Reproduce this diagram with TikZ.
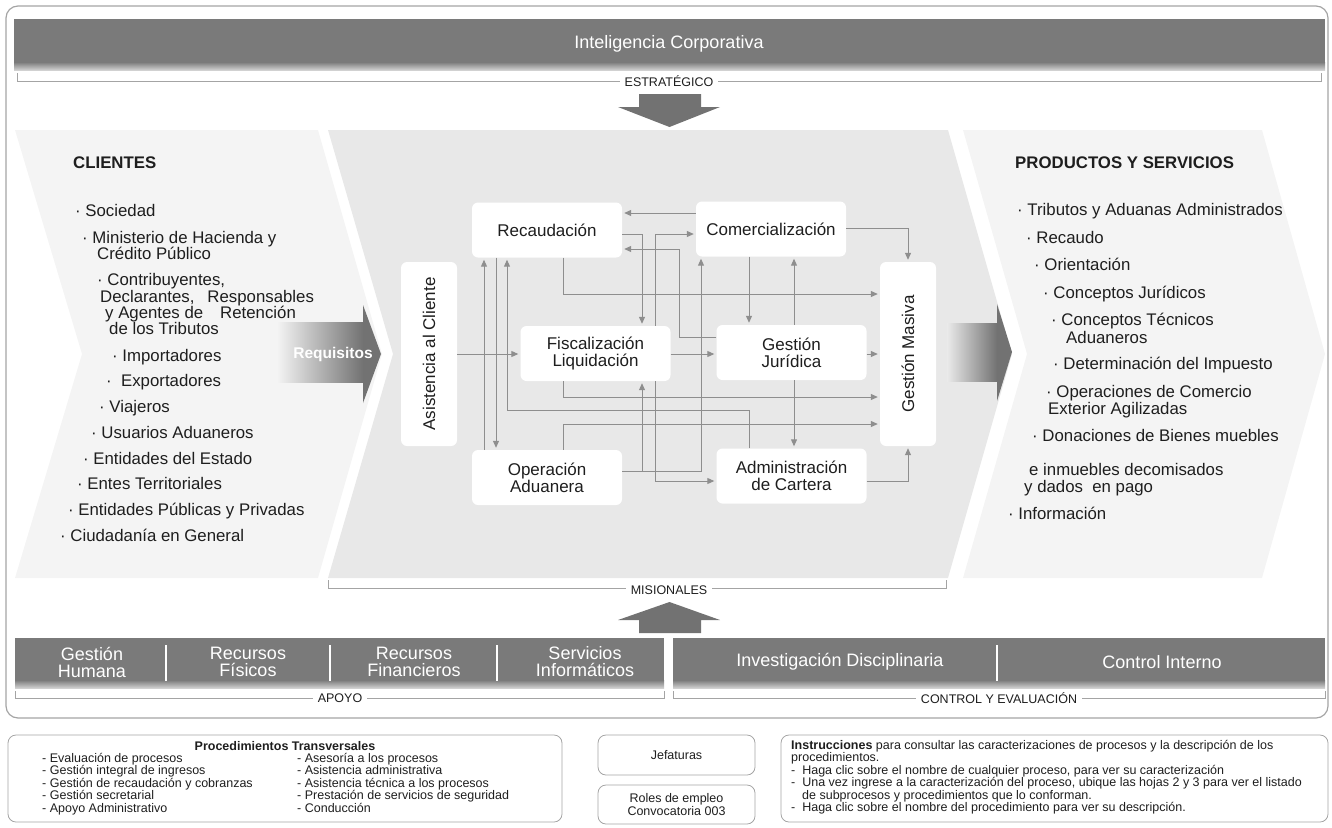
\documentclass[tikz,border=0pt]{standalone}
\usepackage{fontspec}
\usepackage{graphicx}
\setmainfont{Liberation Sans}
\usetikzlibrary{positioning,arrows.meta}
\definecolor{bargray}{HTML}{7A7A7A}
\definecolor{framegray}{HTML}{A4A4A4}
\definecolor{panellight}{HTML}{F4F4F4}
\definecolor{panelmid}{HTML}{E8E8E8}
\definecolor{flowgray}{HTML}{8E8E8E}
\definecolor{arrowgray}{HTML}{727272}
\definecolor{txt}{HTML}{1E1E1E}
\newcommand{\fs}[2]{\fontsize{#1pt}{#2pt}\selectfont}

\begin{document}
\begin{tikzpicture}[x=1pt,y=-1pt,>={Triangle[length=7pt,width=6pt]},
  procbox/.style={fill=white,rounded corners=6pt,inner sep=0pt,align=center,
    minimum width=150pt,minimum height=55pt,font=\fs{17}{17},text=txt},
  flowline/.style={draw=flowgray,line width=1pt,->,shorten >=2pt},
  itemtext/.style={anchor=base west,font=\fs{16.8}{16},text=txt,inner sep=0pt},
  bartext/.style={text=white,font=\fs{18}{17},align=center},
  bracketline/.style={draw=framegray,line width=0.8pt},
  labeltag/.style={fill=white,font=\fs{12.5}{12.5},text=txt,inner xsep=5pt,inner ysep=1pt},
  notebox/.style={draw=framegray,rounded corners=8pt,line width=0.8pt},
  smalltext/.style={font=\fs{12.5}{12.5},text=txt,align=left,anchor=north west,inner sep=0pt}]

\useasboundingbox (0,0) rectangle (1332,827);

% outer frame
\draw[framegray,line width=1.2pt,rounded corners=12pt] (6,6) rectangle (1328,718);

% strategic level
\fill[bargray] (14,19) rectangle (1325,62);
\shade[top color=bargray,bottom color=black!18] (14,62) rectangle (1325,70);
\node[bartext] (intel) at (669,44) {Inteligencia Corporativa};
\draw[bracketline] (17,73) |- (1321,81) -- (1321,73);
\node[labeltag] (estr) at (669,81) {ESTRATÉGICO};
\fill[arrowgray] (639,94) -- (701,94) -- (701,107) -- (720,107) -- (669.5,127)
  -- (618,107) -- (639,107) -- cycle;

% chevron panels
\fill[panellight] (15,130) -- (318,130) -- (382,354) -- (318,578) -- (15,578) -- (82,354) -- cycle;
\fill[panelmid] (328,130) -- (948,130) -- (1012,354) -- (948,578) -- (328,578) -- (393,354) -- cycle;
\fill[panellight] (963,130) -- (1262,130) -- (1325,354) -- (1262,578) -- (963,578) -- (1027,354) -- cycle;

% Requisitos arrow
\shade[left color=white!92!arrowgray,right color=arrowgray] (277,322) rectangle (363,382);
\fill[arrowgray] (363,305) -- (381,354) -- (363,403) -- cycle;
\node[font=\bfseries\fs{15.5}{15.5},text=white] (req) at (333,354) {Requisitos};

% output arrow
\shade[left color=white!85!arrowgray,right color=arrowgray] (947,323) rectangle (997,381);
\fill[arrowgray] (997,304) -- (1012,352) -- (997,401) -- cycle;

% clients
\node[anchor=base west,font=\bfseries\fs{16.8}{16},text=txt,inner sep=0pt] (clihead) at (73,168) {CLIENTES};
\foreach \x/\y/\t [count=\i] in {75/216/{· Sociedad},
    82/243/{· Ministerio de Hacienda y}, 97/259/{Crédito Público},
    97/285/{· Contribuyentes,}, 100/302/{Declarantes,\hspace{13pt}Responsables},
    105/318/{y Agentes de\hspace{17pt}Retención}, 109/334/{de los Tributos},
    112/361/{· Importadores}, 106/386/{·\ \ Exportadores}, 99/412/{· Viajeros},
    91/438/{· Usuarios Aduaneros}, 83/464/{· Entidades del Estado},
    77/489/{· Entes Territoriales}, 68/515/{· Entidades Públicas y Privadas},
    60/541/{· Ciudadanía en General}}
  \node[itemtext] (cli\i) at (\x,\y) {\t};

% products and services
\node[anchor=base west,font=\bfseries\fs{16.8}{16},text=txt,inner sep=0pt] (prodhead) at (1015,168) {PRODUCTOS Y SERVICIOS};
\foreach \x/\y/\t [count=\i] in {1017/215/{· Tributos y Aduanas Administrados},
    1026/243/{· Recaudo}, 1034/270/{· Orientación}, 1043/298/{· Conceptos Jurídicos},
    1051/325/{· Conceptos Técnicos}, 1066/343/{Aduaneros},
    1053/369/{· Determinación del Impuesto},
    1046/397/{· Operaciones de Comercio}, 1048/414/{Exterior Agilizadas},
    1032/441/{· Donaciones de Bienes muebles},
    1029/475/{e inmuebles decomisados}, 1024/492/{y dados\ \ en pago},
    1008/519/{· Información}}
  \node[itemtext] (prod\i) at (\x,\y) {\t};

% missional processes
\node[procbox,minimum width=56pt,minimum height=184pt] (asist) at (429,354) {\rotatebox{90}{Asistencia al Cliente}};
\node[procbox,minimum width=56pt,minimum height=184pt] (gmasiva) at (908,354) {\rotatebox{90}{Gestión Masiva}};
\node[procbox] (recaud) at (547,230) {Recaudación};
\node[procbox] (comerc) at (771,229) {Comercialización};
\node[procbox] (fiscal) at (595.5,353.5) {Fiscalización\\Liquidación};
\node[procbox] (gjurid) at (791.5,352.5) {Gestión\\Jurídica};
\node[procbox] (opadu) at (547,477.5) {Operación\\Aduanera};
\node[procbox] (admcar) at (791.5,476) {Administración\\de Cartera};

\draw[flowline] (comerc.west |- 0,213) -- (recaud.east |- 0,213);
\draw[flowline] (recaud.east |- 0,234) -| (fiscal.north -| 642,0);
\draw[flowline] (fiscal.north -| 655,0) |- (comerc.west |- 0,234);
\draw[flowline] (gjurid.west |- 0,337) -| (679,249) -- (recaud.east |- 0,249);
\draw[flowline] (recaud.south -| 563,0) |- (gmasiva.west |- 0,294);
\draw[flowline] (comerc.east |- 0,228) -| (gmasiva.north);
\draw[flowline] (comerc.south -| 749,0) -- (gjurid.north -| 749,0);
\draw[flowline] (gjurid.north -| 794,0) -- (comerc.south -| 794,0);
\draw[flowline] (opadu.east |- 0,471) -| (comerc.south -| 701,0);
\draw[flowline] (opadu.east |- 0,471) -| (fiscal.south -| 642,0);
\draw[flowline] (fiscal.south -| 655,0) |- (admcar.west |- 0,481);
\draw[flowline] (asist.east |- 0,354) -- (fiscal.west |- 0,354);
\draw[flowline] (fiscal.east |- 0,354) -- (gjurid.west |- 0,354);
\draw[flowline] (gjurid.east |- 0,354) -- (gmasiva.west |- 0,354);
\draw[flowline] (fiscal.south -| 563,0) |- (gmasiva.west |- 0,397);
\draw[flowline] (admcar.north -| 749,0) |- (507,410) -- (recaud.south -| 507,0);
\draw[flowline] (opadu.north -| 563,0) |- (gmasiva.west |- 0,424);
\draw[flowline] (gjurid.south -| 794,0) -- (admcar.north -| 794,0);
\draw[flowline] (admcar.east |- 0,481) -| (gmasiva.south);
\draw[flowline] (opadu.north -| 484,0) -- (recaud.south -| 484,0);
\draw[flowline] (recaud.south -| 496,0) -- (opadu.north -| 496,0);

\draw[bracketline] (328,580) |- (946,588) -- (946,580);
\node[labeltag] (mis) at (669,590) {MISIONALES};
\fill[arrowgray] (639,633) -- (701,633) -- (701,620) -- (720,620) -- (669.5,602)
  -- (618,620) -- (639,620) -- cycle;

% support and control
\fill[bargray] (15,638) rectangle (664,680);
\shade[top color=bargray,bottom color=black!18] (15,680) rectangle (664,688);
\fill[bargray] (673,638) rectangle (1325,680);
\shade[top color=bargray,bottom color=black!18] (673,680) rectangle (1325,688);
\foreach \x in {166,330,497,997}
  \draw[white,line width=2pt] (\x,645) -- (\x,681);
\node[bartext] (ghum) at (92,662) {Gestión\\Humana};
\node[bartext] (rfis) at (248,662) {Recursos\\Físicos};
\node[bartext] (rfin) at (414,662) {Recursos\\Financieros};
\node[bartext] (sinf) at (585,662) {Servicios\\Informáticos};
\node[bartext] (invd) at (840,662) {Investigación Disciplinaria};
\node[bartext] (cint) at (1162,662) {Control Interno};
\draw[bracketline] (15,691) |- (664,698) -- (664,691);
\node[labeltag] (apoyo) at (340,698) {APOYO};
\draw[bracketline] (673,691) |- (1325,698) -- (1325,691);
\node[labeltag] (ctrl) at (999,698) {CONTROL Y EVALUACIÓN};

% notes below
\node[notebox,minimum width=554pt,minimum height=87pt] (proc) at (285,778.5) {};
\node[font=\bfseries\fs{12.5}{12.5},text=txt] (proctitle) at (285,746) {Procedimientos Transversales};
\node[smalltext] (proccola) at (42,753) {- Evaluación de procesos\\- Gestión integral de ingresos\\- Gestión de recaudación y cobranzas\\- Gestión secretarial\\- Apoyo Administrativo};
\node[smalltext] (proccolb) at (297,753) {- Asesoría a los procesos\\- Asistencia administrativa\\- Asistencia técnica a los procesos\\- Prestación de servicios de seguridad\\- Conducción};

\node[notebox,minimum width=157pt,minimum height=40pt,font=\fs{12.5}{12.5},text=txt] (jef) at (676.5,755) {Jefaturas};
\node[notebox,minimum width=157pt,minimum height=39pt,align=center,font=\fs{12.5}{13},text=txt] (roles) at (676.5,804.5) {Roles de empleo\\Convocatoria 003};

\node[notebox,minimum width=547pt,minimum height=87pt] (instr) at (1054.5,778.5) {};
\node[smalltext] (instrtext) at (791,740) {\textbf{Instrucciones} para consultar las caracterizaciones de procesos y la descripción de los\\procedimientos.\\-\ \ Haga clic sobre el nombre de cualquier proceso, para ver su caracterización\\-\ \ Una vez ingrese a la caracterización del proceso, ubique las hojas 2 y 3 para ver el listado\\\hspace*{11pt}de subprocesos y procedimientos que lo conforman.\\-\ \ Haga clic sobre el nombre del procedimiento para ver su descripción.};
\end{tikzpicture}
\end{document}
